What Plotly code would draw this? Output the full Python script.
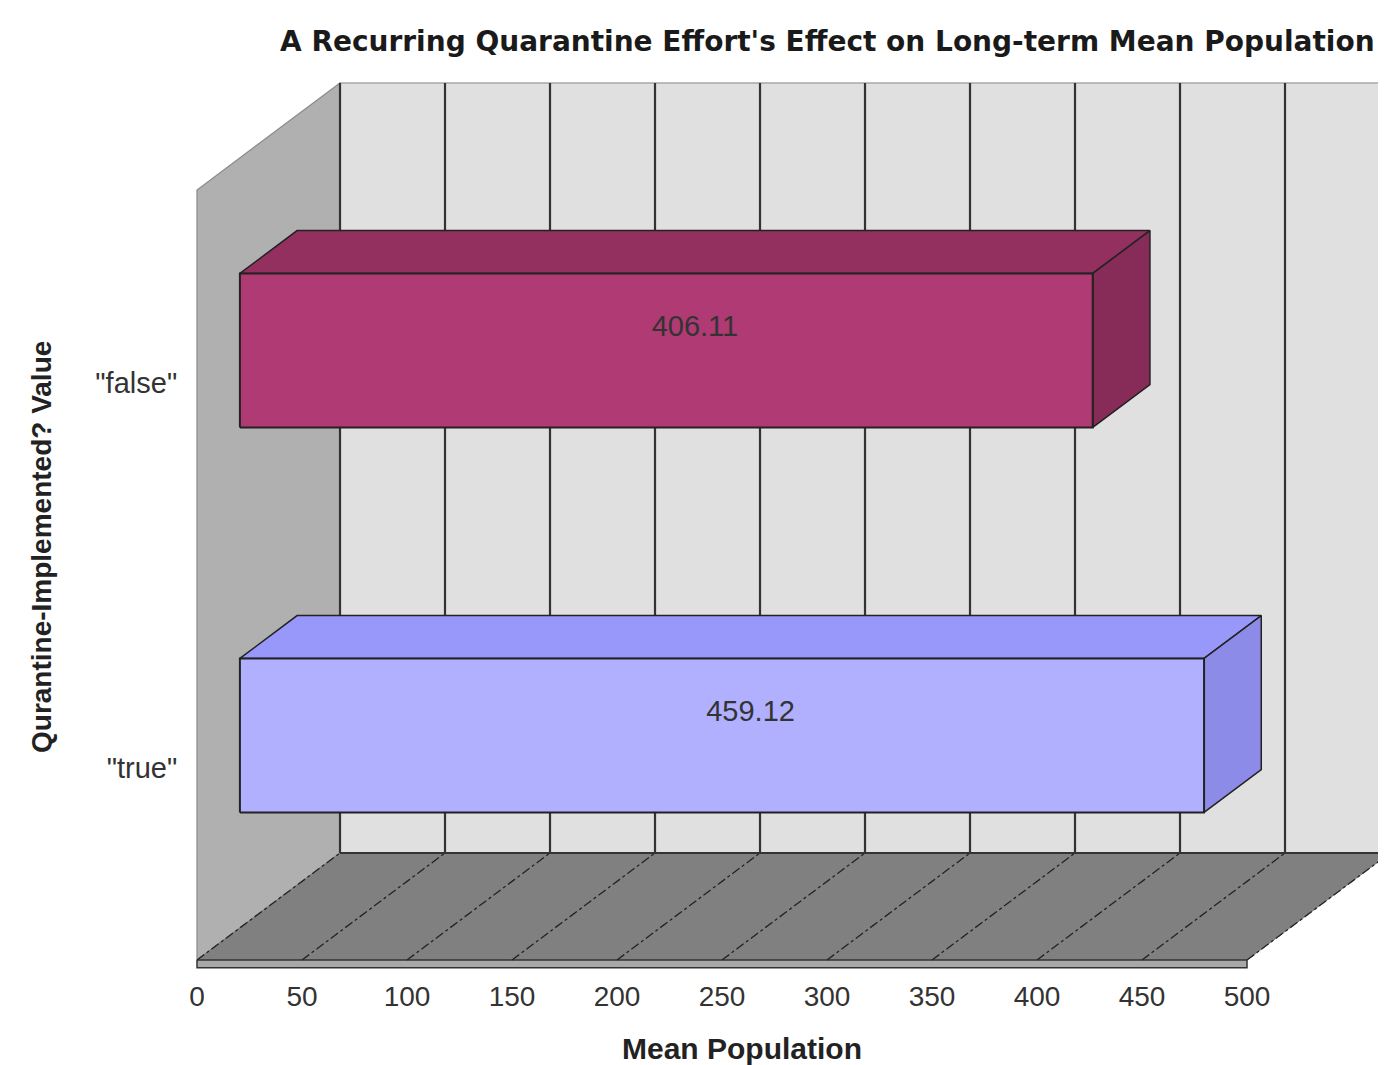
import plotly.graph_objects as go

# ---- data ----
categories = ['"false"', '"true"']
values = [406.11, 459.12]
value_labels = ["406.11", "459.12"]
x_ticks = [0, 50, 100, 150, 200, 250, 300, 350, 400, 450, 500]
title = "A Recurring Quarantine Effort's Effect on Long-term Mean Population"
x_title = "Mean Population"
y_title = "Qurantine-Implemented? Value"

# ---- styling ----
front_colors = ["#b03a74", "#b0b0ff"]
top_colors = ["#94305f", "#9898fa"]
side_colors = ["#872b58", "#8c8ce8"]

DX = 68.1      # depth offset in x data units
DY = 0.278     # depth offset in category units
F0, F1 = 0.3, 0.7   # bar depth fractions
HW = 0.2       # half bar thickness (category units)
XMAX = x_ticks[-1]
Y_LO, Y_HI = -0.5, len(categories) - 0.5
SLAB = 0.02
EDGE = "#222222"
FONT = "Liberation Sans, Arial, sans-serif"

fig = go.Figure()


def poly(xs, ys, fill, line_color=EDGE, width=1.5):
    fig.add_trace(go.Scatter(
        x=list(xs) + [xs[0]], y=list(ys) + [ys[0]], mode="lines", fill="toself",
        fillcolor=fill, line=dict(color=line_color, width=width),
        hoverinfo="skip", showlegend=False))


def seg(xs, ys, color=EDGE, width=1.5, dash="solid"):
    fig.add_trace(go.Scatter(
        x=xs, y=ys, mode="lines", line=dict(color=color, width=width, dash=dash),
        hoverinfo="skip", showlegend=False))


# back wall
poly([DX, 700, 700, DX], [Y_LO + DY, Y_LO + DY, Y_HI + DY, Y_HI + DY], "#e0e0e0", "#a8a8a8", 1.5)
# left wall
poly([0, 0, DX, DX], [Y_LO, Y_HI, Y_HI + DY, Y_LO + DY], "#b0b0b0", "#8a8a8a", 1.2)
# floor
poly([0, XMAX, XMAX + DX, DX], [Y_LO, Y_LO, Y_LO + DY, Y_LO + DY], "#808080", "#808080", 1)
# slab
poly([0, XMAX, XMAX, 0], [Y_LO, Y_LO, Y_LO - SLAB, Y_LO - SLAB], "#a8a8a8", "#333333", 1.5)

# back-wall grid lines
for t in x_ticks:
    seg([t + DX, t + DX], [Y_LO + DY, Y_HI + DY], "#333333", 2.2)
# back wall bottom edge
seg([DX, 700], [Y_LO + DY, Y_LO + DY], "#333333", 2)
# floor grid lines
for t in x_ticks:
    seg([t, t + DX], [Y_LO, Y_LO + DY], "#222222", 1.3, "dashdot")

# bars
n = len(categories)
for i, (v, lab) in enumerate(zip(values, value_labels)):
    yc = n - 1 - i
    x0f, x1f = F0 * DX, v + F0 * DX
    x0b, x1b = F1 * DX, v + F1 * DX
    ylf, yhf = yc - HW + F0 * DY, yc + HW + F0 * DY
    ylb, yhb = yc - HW + F1 * DY, yc + HW + F1 * DY
    # top face
    poly([x0f, x1f, x1b, x0b], [yhf, yhf, yhb, yhb], top_colors[i], EDGE, 1.5)
    # side face
    poly([x1f, x1b, x1b, x1f], [ylf, ylb, yhb, yhf], side_colors[i], EDGE, 1.5)
    # front face
    poly([x0f, x1f, x1f, x0f], [ylf, ylf, yhf, yhf], front_colors[i], EDGE, 2)
    # value label at mid depth
    fig.add_trace(go.Scatter(
        x=[v / 2 + 0.5 * DX], y=[yc + 0.5 * DY], mode="text", text=[lab],
        textfont=dict(family=FONT, size=29, color="#333333"),
        hoverinfo="skip", showlegend=False))

# page body adds an 8px margin; target pixel positions are compensated
OFF = 8
W, H = 1386, 1065
ML, MR, MT = 190 - OFF, 0, 75 - OFF
PLOT_BOTTOM = 970 - OFF
MB = H - PLOT_BOTTOM
PX_X = 2.1        # px per x unit
PX_Y = 385.0      # px per category unit
x_lo = -7 / PX_X
x_hi = x_lo + (W - ML - MR) / PX_X
y_lo = Y_LO - 10 / PX_Y
y_hi = y_lo + (H - MT - MB) / PX_Y

fig.update_layout(
    width=W, height=H, margin=dict(l=ML, r=MR, t=MT, b=MB),
    paper_bgcolor="white", plot_bgcolor="white", showlegend=False,
    xaxis=dict(range=[x_lo, x_hi], tickvals=x_ticks, ticktext=[str(t) for t in x_ticks],
               showgrid=False, zeroline=False, showline=False,
               ticks="outside", ticklen=1, tickcolor="rgba(0,0,0,0)",
               tickfont=dict(family=FONT, size=28, color="#333333")),
    yaxis=dict(range=[y_lo, y_hi], tickvals=[n - 1 - i for i in range(n)], ticktext=categories,
               showgrid=False, zeroline=False, showline=False,
               ticks="outside", ticklen=6, tickcolor="rgba(0,0,0,0)",
               tickfont=dict(family=FONT, size=29, color="#333333")),
    annotations=[
        dict(text="<b>" + title + "</b>", x=827, y=42, showarrow=False,
             font=dict(family="DejaVu Sans, Verdana, sans-serif", size=28, color="#1a1a1a")),
        dict(text="<b>" + x_title + "</b>", x=742, y=1048, showarrow=False,
             font=dict(family=FONT, size=30, color="#222222")),
        dict(text="<b>" + y_title + "</b>", x=41, y=547, textangle=-90, showarrow=False,
             font=dict(family=FONT, size=28, color="#222222")),
    ],
)

# convert target pixel anchors of annotations into paper coordinates
for a in fig.layout.annotations:
    px, py = a.x - OFF, a.y - OFF
    a.x = (px - ML) / (W - ML - MR)
    a.y = 1 - (py - MT) / (H - MT - MB)
    a.xanchor = "center"
    a.yanchor = "middle"
    a.xref = "paper"
    a.yref = "paper"

fig.write_html("out.html")
